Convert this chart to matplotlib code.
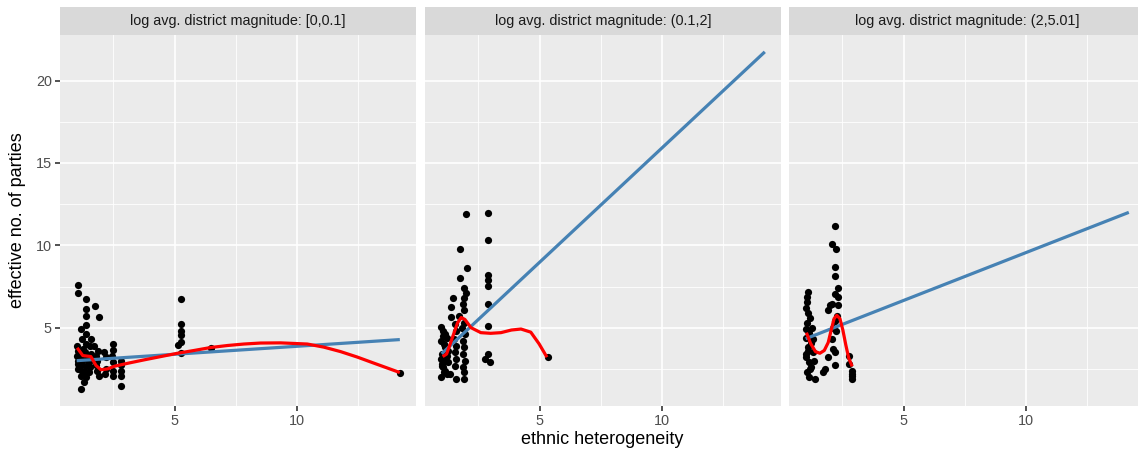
import matplotlib
matplotlib.use("Agg")
import matplotlib.pyplot as plt
import numpy as np

plt.rcParams['font.family'] = ['Liberation Sans', 'DejaVu Sans']

# facet labels
facet_labels = [
    "log avg. district magnitude: [0,0.1]",
    "log avg. district magnitude: (0.1,2]",
    "log avg. district magnitude: (2,5.01]",
]

# observations: ethnic heterogeneity vs effective number of parties
p1_x = [1.04, 1.04, 1.02, 1.05, 1.03, 1.06, 1.04, 1.07,
        1.18, 1.18, 1.18, 1.18, 1.18, 1.22, 1.20, 1.24, 1.21,
        1.38, 1.38, 1.38, 1.38, 1.38, 1.40, 1.36, 1.42, 1.38, 1.35, 1.40, 1.31,
        1.59, 1.55, 1.52, 1.52, 1.56, 1.58,
        1.76, 1.92, 1.72, 1.79, 1.79, 1.92, 1.85, 1.82, 1.88,
        2.13, 2.20, 2.16, 2.18,
        2.47, 2.47, 2.47, 2.47, 2.45, 2.49,
        2.81, 2.81, 2.81, 2.80, 2.82,
        5.28, 5.28, 5.28, 5.28, 5.12, 5.28, 5.28,
        6.48, 14.20]
p1_y = [7.61, 7.12, 3.92, 3.60, 3.30, 3.00, 2.80, 2.50,
        4.94, 3.31, 2.71, 2.10, 1.29, 3.00, 2.40, 3.70, 4.30,
        6.72, 6.15, 5.70, 5.14, 4.63, 4.00, 3.50, 3.10, 2.70, 2.30, 2.00, 1.69,
        4.33, 3.90, 2.91, 2.30, 2.60, 3.40,
        6.29, 5.64, 3.92, 3.31, 2.71, 2.10, 2.40, 3.00, 3.60,
        3.51, 2.50, 2.20, 3.20,
        4.02, 3.62, 2.91, 2.40, 3.30, 2.10,
        2.71, 2.10, 1.49, 2.40, 3.00,
        6.76, 5.24, 4.83, 4.53, 3.98, 4.12, 3.45,
        3.78, 2.28]

p2_x = [0.98, 1.05, 1.12, 1.20, 0.99, 1.08, 1.15, 1.25, 1.02, 1.10, 1.18, 1.00,
        1.06, 1.14, 1.22, 0.98, 1.04, 1.12, 1.20, 1.01, 1.09, 1.16, 1.24, 0.99,
        1.46, 1.93, 1.86, 1.39, 1.93, 1.39, 1.72, 1.99, 1.76, 2.02, 1.76, 1.92,
        1.99, 1.93, 1.59, 1.32,
        1.90, 1.85, 1.95, 1.88, 1.92, 1.86, 1.94, 1.89, 1.91,
        1.55, 1.58, 1.52, 1.60, 1.54, 1.57, 1.53,
        2.90, 2.90, 2.90, 2.90, 2.90, 2.90, 2.88, 2.88, 2.75, 2.96,
        5.33]
p2_y = [5.03, 4.80, 4.60, 4.40, 4.20, 4.00, 3.80, 3.60, 3.40, 3.20, 3.00, 2.80,
        2.60, 2.40, 2.20, 2.00, 4.50, 3.90, 3.30, 2.70, 2.30, 3.50, 2.90, 3.10,
        6.82, 6.82, 6.46, 6.25, 6.05, 5.64, 5.74, 11.88, 9.78, 8.64, 8.01, 7.40,
        7.12, 1.90, 1.90, 2.20,
        5.30, 5.00, 4.60, 4.20, 3.80, 3.40, 3.00, 2.60, 2.30,
        5.20, 4.80, 4.30, 3.90, 3.50, 3.10, 2.70,
        11.99, 10.35, 8.18, 7.87, 7.53, 6.46, 5.09, 3.42, 3.11, 2.91,
        3.21]

p3_x = [1.08, 1.04, 1.04,
        1.02, 1.10, 1.18, 1.05, 1.25, 1.12, 1.00, 1.20, 1.08, 1.30, 1.03, 1.15,
        1.22, 1.06, 1.12, 1.02, 1.28, 1.10, 1.35, 1.18, 1.01, 1.39,
        2.20, 2.09, 2.23, 2.20, 2.20, 2.33, 2.20, 2.33, 2.09, 2.00, 2.33, 1.92,
        2.27, 2.06, 2.13, 2.20, 1.92, 2.20, 1.79, 1.72, 2.20, 2.10, 2.25,
        2.76, 2.76, 2.90, 2.90, 2.90, 2.88]
p3_y = [7.16, 6.86, 6.55,
        6.20, 5.90, 5.60, 5.30, 5.00, 4.70, 4.40, 4.10, 3.80, 3.50, 3.20, 2.90,
        2.60, 2.30, 2.00, 4.90, 4.30, 3.60, 3.00, 2.50, 3.40, 1.90,
        11.17, 10.10, 9.80, 8.68, 8.13, 7.40, 7.06, 6.86, 6.46, 6.35, 6.35, 6.05,
        5.74, 4.33, 3.72, 3.51, 3.21, 2.71, 2.50, 2.30, 5.40, 5.00, 4.80,
        3.31, 2.81, 2.40, 2.10, 1.90, 2.20]

# linear fits (full data range)
lm_x = [1.00, 14.20]
p1_lm_y = [3.00, 4.28]
p2_lm_y = [3.42, 21.74]
p3_lm_y = [4.33, 12.00]

# local regression curves
p1_lo_x = [1.02, 1.25, 1.58, 1.79, 1.99, 2.26, 2.54, 3.08, 3.76, 4.44, 5.12, 5.80,
           6.48, 7.16, 7.83, 8.51, 9.33, 10.42, 11.10, 11.78, 12.46, 13.14, 14.20]
p1_lo_y = [3.78, 3.31, 3.25, 2.71, 2.45, 2.50, 2.66, 2.84, 3.05, 3.25, 3.45, 3.62,
           3.80, 3.92, 4.01, 4.07, 4.08, 4.01, 3.82, 3.55, 3.22, 2.85, 2.28]
p2_lo_x = [1.04, 1.20, 1.38, 1.52, 1.65, 1.80, 1.95, 2.20, 2.60, 3.00, 3.42, 3.85,
           4.24, 4.64, 4.98, 5.30]
p2_lo_y = [3.25, 3.40, 4.15, 4.75, 5.30, 5.62, 5.50, 5.00, 4.70, 4.66, 4.70, 4.86,
           4.92, 4.73, 4.02, 3.21]
p3_lo_x = [1.03, 1.20, 1.40, 1.58, 1.76, 1.92, 2.05, 2.16, 2.27, 2.40, 2.52, 2.64,
           2.76, 2.90]
p3_lo_y = [4.70, 4.05, 3.55, 3.45, 3.62, 4.10, 4.90, 5.55, 5.75, 5.55, 4.85, 3.95,
           3.15, 2.65]

x_ticks = [5, 10]
y_ticks = [5, 10, 15, 20]

panels = [
    (p1_x, p1_y, p1_lm_y, p1_lo_x, p1_lo_y),
    (p2_x, p2_y, p2_lm_y, p2_lo_x, p2_lo_y),
    (p3_x, p3_y, p3_lm_y, p3_lo_x, p3_lo_y),
]

# shared scales with 5% expansion
all_x = np.concatenate([np.r_[p[0], lm_x, p[3]] for p in panels])
all_y = np.concatenate([np.r_[p[1], p[2], p[4]] for p in panels])
xr = all_x.max() - all_x.min()
yr = all_y.max() - all_y.min()
xlim = (all_x.min() - 0.05 * xr, all_x.max() + 0.05 * xr)
ylim = (all_y.min() - 0.05 * yr, all_y.max() + 0.05 * yr)

W, H = 1138, 453
fig = plt.figure(figsize=(W / 100, H / 100), dpi=100)
fig.patch.set_facecolor("white")

panel_left = [60, 425, 789]
panel_w = 356
panel_top, panel_bot = 35, 405.7
strip_top = 7

grey30 = "#4D4D4D"
tick_fs = 10.4
for i, (px, py, lmy, lox, loy) in enumerate(panels):
    left = panel_left[i]
    ax = fig.add_axes([left / W, 1 - panel_bot / H, panel_w / W, (panel_bot - panel_top) / H])
    ax.set_facecolor("#EBEBEB")
    ax.set_xlim(xlim)
    ax.set_ylim(ylim)
    for s in ax.spines.values():
        s.set_visible(False)
    # grid
    for v in [2.5, 7.5, 12.5]:
        ax.axvline(v, color="white", lw=0.6, zorder=0.5)
    for v in [2.5, 7.5, 12.5, 17.5]:
        ax.axhline(v, color="white", lw=0.6, zorder=0.5)
    for v in x_ticks:
        ax.axvline(v, color="white", lw=1.2, zorder=0.6)
    for v in y_ticks:
        ax.axhline(v, color="white", lw=1.2, zorder=0.6)

    ax.scatter(px, py, s=27, color="black", linewidths=0, zorder=2)
    ax.plot(lm_x, lmy, color="#4682B4", lw=2.3, zorder=3, solid_capstyle="butt")
    ax.plot(lox, loy, color="#FF0000", lw=2.3, zorder=4, solid_capstyle="butt")

    ax.set_xticks(x_ticks)
    ax.set_xticklabels([str(t) for t in x_ticks])
    ax.tick_params(axis="x", length=3.3, width=1.2, color="#333333",
                   labelsize=tick_fs, labelcolor=grey30, pad=2.5)
    if i == 0:
        ax.set_yticks(y_ticks)
        ax.set_yticklabels([str(t) for t in y_ticks])
        ax.tick_params(axis="y", length=3.3, width=1.2, color="#333333",
                       labelsize=tick_fs, labelcolor=grey30, pad=2.5)
    else:
        ax.set_yticks([])

    # facet strip
    sax = fig.add_axes([left / W, 1 - panel_top / H, panel_w / W, (panel_top - strip_top) / H])
    sax.set_facecolor("#D9D9D9")
    sax.set_xticks([])
    sax.set_yticks([])
    for s in sax.spines.values():
        s.set_visible(False)
    sax.text(0.5, 0.5, facet_labels[i], ha="center", va="center",
             fontsize=tick_fs, color="#1A1A1A", transform=sax.transAxes)

fig.text((60 + 789 + panel_w) / 2 / W, 1 - 440 / H, "ethnic heterogeneity",
         ha="center", va="center", fontsize=13, color="black")
fig.text(18 / W, 1 - (panel_top + panel_bot) / 2 / H, "effective no. of parties",
         ha="center", va="center", rotation=90, fontsize=13, color="black")

fig.savefig("out.png", dpi=100)
